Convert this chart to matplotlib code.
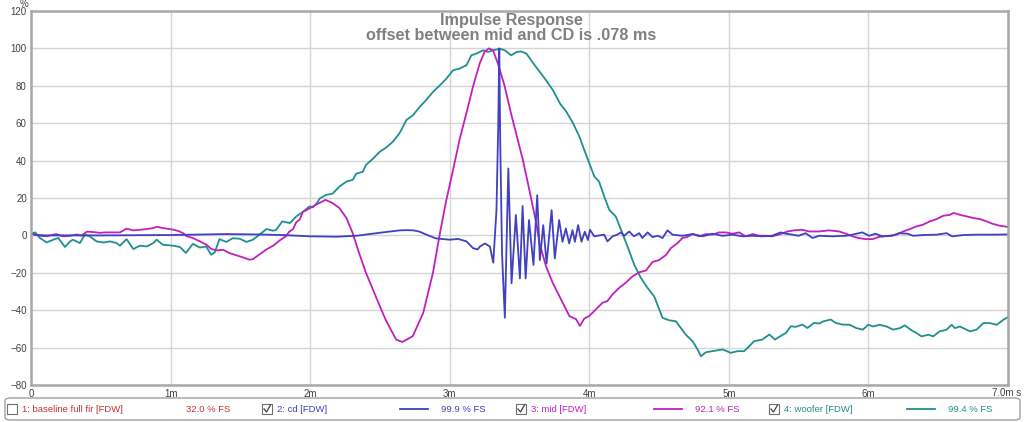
import matplotlib
matplotlib.use("Agg")
import matplotlib.pyplot as plt
from matplotlib.patches import FancyBboxPatch, Rectangle
from matplotlib.lines import Line2D

# --- data (time in ms, level in %) ---
woofer_t = [0.0, 0.03, 0.064, 0.112, 0.16, 0.196, 0.243, 0.28, 0.30, 0.35, 0.387, 0.42, 0.47, 0.52, 0.566,
            0.613, 0.637, 0.685, 0.733, 0.78, 0.83, 0.876, 0.90, 0.945, 1.02, 1.067, 1.11, 1.16, 1.21, 1.255,
            1.29, 1.317, 1.35, 1.40, 1.446, 1.496, 1.544, 1.59, 1.637, 1.687, 1.735, 1.757, 1.80, 1.854, 1.90,
            1.947, 1.995, 2.02, 2.045, 2.07, 2.115, 2.16, 2.21, 2.26, 2.305, 2.33, 2.377, 2.40, 2.45, 2.50,
            2.545, 2.593, 2.64, 2.69, 2.737, 2.785, 2.83, 2.88, 2.93, 2.976, 3.024, 3.07, 3.12, 3.155, 3.19,
            3.24, 3.275, 3.31, 3.36, 3.395, 3.44, 3.48, 3.51, 3.55, 3.6, 3.646, 3.69, 3.74, 3.79, 3.837,
            3.885, 3.93, 3.964, 4.0, 4.036, 4.07, 4.107, 4.143, 4.19, 4.227, 4.274, 4.322, 4.37, 4.418,
            4.465, 4.525, 4.573, 4.62, 4.656, 4.69, 4.74, 4.776, 4.8, 4.835, 4.883, 4.955, 5.014, 5.062,
            5.11, 5.146, 5.18, 5.24, 5.29, 5.33, 5.36, 5.41, 5.444, 5.48, 5.527, 5.563, 5.61, 5.647, 5.68,
            5.73, 5.766, 5.814, 5.866, 5.914, 5.96, 5.998, 6.033, 6.08, 6.13, 6.177, 6.225, 6.26, 6.31,
            6.344, 6.38, 6.43, 6.464, 6.51, 6.56, 6.596, 6.62, 6.655, 6.68, 6.727, 6.775, 6.823, 6.87,
            6.92, 6.967, 7.0]
woofer_v = [1.0, 1.6, -1.4, -3.75, -2.3, -1.4, -6.2, -3.2, -2.3, -4.1, 0.4, -0.5, -3.2, -3.8, -3.2,
            -4.1, -5.5, -2.0, -7.3, -5.5, -5.9, -4.1, -2.3, -5.0, -5.5, -6.2, -9.4, -4.5, -6.5, -5.9,
            -10.3, -9.1, -2.0, -3.5, -1.5, -1.8, -3.5, -2.3, 0.4, 3.4, 2.5, 3.0, 7.5, 6.6, 10.1,
            12.5, 15.5, 15.0, 17.0, 19.8, 21.7, 22.3, 26.1, 28.8, 29.7, 33.0, 34.0, 37.7, 41.0, 44.8,
            47.0, 50.1, 54.6, 61.7, 64.3, 68.7, 72.3, 76.7, 80.3, 83.8, 88.3, 89.2, 91.0, 96.3, 97.2,
            99.0, 98.1, 99.0, 99.8, 99.0, 96.3, 98.1, 98.4, 97.2, 91.9, 87.4, 83.0, 77.6, 70.5, 66.0,
            59.8, 52.7, 45.7, 38.6, 31.5, 28.8, 20.8, 13.7, 10.1, 3.0, -5.9, -15.7, -22.8, -28.1,
            -32.6, -44.1, -45.4, -45.9, -49.5, -53.0, -56.6, -61.0, -64.6, -62.5, -61.9, -61.0, -62.8, -61.9,
            -61.9, -59.3, -56.6, -55.7, -53.0, -55.7, -54.3, -52.1, -48.6, -48.9, -47.7, -49.5, -46.8, -47.1, -45.9,
            -45.0, -46.8, -47.7, -47.8, -49.6, -50.4, -47.8, -48.7, -47.8, -48.7, -50.4, -49.6, -48.1, -50.8,
            -52.2, -54.0, -53.1, -54.0, -51.3, -50.4, -47.8, -49.6, -48.7, -49.6, -51.3, -50.4, -46.9, -46.9,
            -47.8, -45.1, -43.7]

mid_t = [0.0, 0.064, 0.11, 0.18, 0.23, 0.28, 0.33, 0.36, 0.40, 0.446, 0.49, 0.54, 0.59, 0.637, 0.685,
         0.733, 0.78, 0.83, 0.876, 0.90, 0.947, 0.995, 1.04, 1.064, 1.09, 1.115, 1.16, 1.21, 1.258, 1.29,
         1.33, 1.377, 1.42, 1.47, 1.52, 1.566, 1.59, 1.64, 1.687, 1.735, 1.78, 1.83, 1.85, 1.878, 1.90,
         1.926, 1.947, 1.973, 2.02, 2.07, 2.11, 2.16, 2.21, 2.26, 2.305, 2.35, 2.40, 2.47, 2.54, 2.616,
         2.66, 2.735, 2.81, 2.88, 2.93, 2.976, 3.0, 3.024, 3.07, 3.12, 3.167, 3.215, 3.25, 3.28, 3.31,
         3.345, 3.393, 3.44, 3.488, 3.524, 3.56, 3.595, 3.62, 3.643, 3.69, 3.738, 3.786, 3.81, 3.857, 3.905,
         3.933, 3.964, 4.0, 4.048, 4.095, 4.13, 4.167, 4.215, 4.26, 4.31, 4.358, 4.406, 4.453, 4.5, 4.55,
         4.585, 4.632, 4.668, 4.7, 4.74, 4.787, 4.835, 4.883, 4.93, 4.98, 5.026, 5.074, 5.12, 5.17, 5.217,
         5.265, 5.31, 5.37, 5.42, 5.468, 5.527, 5.575, 5.647, 5.718, 5.79, 5.838, 5.885, 5.93, 5.98, 6.03,
         6.076, 6.148, 6.2, 6.249, 6.297, 6.344, 6.39, 6.44, 6.488, 6.536, 6.584, 6.61, 6.655, 6.703, 6.75,
         6.8, 6.846, 6.89, 6.94, 7.0]
mid_v = [0.7, -0.2, -0.5, 0.7, -0.5, -0.2, 0.5, -0.2, 2.0, 1.8, 1.4, 1.6, 1.6, 1.6, 3.6,
         2.7, 3.0, 3.4, 3.9, 4.6, 3.9, 3.4, 2.7, 2.1, 1.2, -0.4, -1.4, -3.2, -5.0, -7.2,
         -8.0, -7.7, -9.4, -10.6, -11.8, -13.0, -12.7, -10.0, -7.5, -5.5, -2.8, -0.2, 2.0, 3.4, 7.0,
         8.5, 12.5, 13.5, 15.5, 17.5, 19.0, 17.3, 14.6, 9.3, 1.2, -9.3, -20.0, -32.6, -45.0, -55.7,
         -57.0, -53.9, -41.5, -20.0, 1.2, 19.0, 27.0, 35.0, 51.0, 65.5, 79.6, 92.0, 98.2, 100.0, 99.0,
         92.0, 80.0, 65.0, 51.0, 40.4, 28.0, 15.5, 6.6, -4.1, -16.5, -25.4, -32.5, -36.0, -43.1, -44.8,
         -48.4, -44.5, -43.1, -39.5, -36.0, -35.1, -31.5, -28.0, -25.4, -21.9, -19.7, -18.8, -14.2, -13.2, -10.4,
         -6.8, -4.1, -1.4, -0.9, 0.8, -0.5, 0.7, 0.4, 1.6, 1.6, 0.9, 1.6, -0.5, 0.7, -0.2,
         -0.2, -0.5, 0.7, 2.1, 2.7, 3.0, 2.1, 2.1, 2.7, 2.1, 0.9, -0.5, -1.4, -2.0, -2.0,
         -0.8, -0.2, 0.4, 2.1, 3.4, 4.8, 5.7, 7.5, 8.7, 10.5, 11.0, 12.0, 11.0, 10.2, 9.3,
         8.7, 7.5, 6.2, 5.2, 4.5]

cd_t = [0.0, 0.03, 0.1, 0.5, 1.0, 1.4, 1.64, 1.8, 2.0, 2.19, 2.33, 2.52, 2.643, 2.69, 2.738, 2.78,
        2.833, 2.90, 3.0, 3.06, 3.12, 3.167, 3.20, 3.216, 3.252, 3.288, 3.312, 3.335, 3.348, 3.355,
        3.362, 3.375, 3.395, 3.42, 3.443, 3.474, 3.503, 3.522, 3.544, 3.568, 3.6, 3.627, 3.646, 3.67,
        3.694, 3.73, 3.753, 3.784, 3.808, 3.832, 3.856, 3.88, 3.897, 3.92, 3.944, 3.968, 3.99, 4.005,
        4.036, 4.072, 4.107, 4.13, 4.167, 4.2, 4.227, 4.25, 4.286, 4.32, 4.358, 4.38, 4.418, 4.453,
        4.49, 4.525, 4.56, 4.597, 4.668, 4.74, 4.81, 4.883, 4.955, 5.026, 5.1, 5.17, 5.24, 5.31,
        5.37, 5.41, 5.456, 5.5, 5.55, 5.6, 5.647, 5.742, 5.838, 5.885, 5.914, 5.957, 6.005, 6.05,
        6.1, 6.17, 6.22, 6.28, 6.32, 6.39, 6.49, 6.56, 6.6, 6.68, 6.775, 6.87, 7.0]
cd_v = [1.2, 0.3, 0.0, 0.0, 0.2, 0.7, 0.5, 0.2, -0.5, -0.7, -0.2, 1.6, 2.7, 2.8, 2.7, 2.1,
        0.4, -1.6, -2.3, -1.9, -3.2, -6.8, -7.5, -6.0, -4.3, -6.0, -14.6, 13.5, 60.0, 100.0,
        50.0, -10.0, -44.0, 35.8, -25.6, 10.9, -23.0, 15.7, -23.0, 8.2, -15.8, 21.5, -13.2, 5.5,
        -15.0, 13.5, -12.3, 8.2, -3.4, 3.7, -4.3, 2.8, -3.4, 5.5, -3.4, 2.0, -2.5, 3.0,
        -0.5, 0.0, 0.4, -3.2, -0.5, 0.4, 1.6, -0.2, 2.1, -0.5, 1.2, -1.4, 1.6, -0.9,
        -0.2, -1.4, 2.7, 0.4, -0.2, 0.7, -0.5, 0.9, -0.2, 0.4, -0.5, -0.2, -0.5, -0.2,
        1.6, 0.9, 0.4, -0.2, 1.2, -1.4, -0.2, -0.5, -0.2, 0.4, 0.9, 1.6, -0.2, 0.9,
        -0.5, -0.2, 1.2, 0.9, -0.2, 0.2, 0.4, 1.2, -0.5, 0.2, 0.4, 0.4, 0.5]

x_ticks = [0, 1, 2, 3, 4, 5, 6, 7]
x_labels = ["0", "1m", "2m", "3m", "4m", "5m", "6m", ""]
y_ticks = [-80, -60, -40, -20, 0, 20, 40, 60, 80, 100, 120]

legend_names = ["1: baseline full fir [FDW]", "2: cd [FDW]", "3: mid [FDW]", "4: woofer [FDW]"]
legend_levels = ["32.0 % FS", "99.9 % FS", "92.1 % FS", "99.4 % FS"]
legend_checked = [False, True, True, True]

c_base = "#c83030"
c_cd = "#4040c0"
c_mid = "#c020c0"
c_woof = "#1f8f8f"
legend_colors = [c_base, c_cd, c_mid, c_woof]

W, H = 1024, 422
fig = plt.figure(figsize=(W / 100, H / 100), dpi=100)
fig.patch.set_facecolor("white")
ax = fig.add_axes([31 / W, 1 - 385 / H, (1008 - 31) / W, (385 - 11) / H])

ax.plot(woofer_t, woofer_v, color=c_woof, lw=1.3)
ax.plot(mid_t, mid_v, color=c_mid, lw=1.3)
ax.plot(cd_t, cd_v, color=c_cd, lw=1.3)

ax.set_xlim(0, 7)
ax.set_ylim(-80, 120)
ax.set_xticks(x_ticks)
ax.set_xticklabels(x_labels)
ax.set_yticks(y_ticks)
ax.grid(True, color="#d4d4d4", lw=1)
ax.set_axisbelow(True)
ax.tick_params(length=0, labelsize=7, labelcolor="#404040", pad=3)
for lab in ax.get_xticklabels() + ax.get_yticklabels():
    lab.set_family("Liberation Sans")
for s in ax.spines.values():
    s.set_color("#a8a8a8")
    s.set_linewidth(1.8)

# last x label carries the unit
fig.text(1021 / W, 1 - 393 / H, "7.0m s", fontsize=7, color="#404040", family="Liberation Sans",
         ha="right", va="center")
fig.text(24 / W, 1 - 4 / H, "%", fontsize=7, color="#404040", family="Liberation Sans",
         ha="center", va="center")

fig.text(511 / W, 1 - 20 / H, "Impulse Response", fontsize=11.7, color="#808080", weight="bold",
         family="Liberation Sans", ha="center", va="center")
fig.text(511 / W, 1 - 36 / H, "offset between mid and CD is .078 ms", fontsize=11.7, color="#808080",
         weight="bold", family="Liberation Sans", ha="center", va="center")

# legend strip at the bottom
box = FancyBboxPatch((5 / W, 1 - 420 / H), 1015 / W, 22 / H, boxstyle="round,pad=0,rounding_size=0.006",
                     transform=fig.transFigure, facecolor="white", edgecolor="#a0a0a0", lw=1)
fig.patches.append(box)

item_x = [7, 262, 516, 769]
yc = 1 - 409 / H
for i in range(4):
    x0 = item_x[i]
    fig.patches.append(Rectangle((x0 / W, 1 - 414 / H), 10 / W, 10 / H, transform=fig.transFigure,
                                 facecolor="white", edgecolor="#707070", lw=0.8))
    if legend_checked[i]:
        fig.lines.append(Line2D([(x0 + 2) / W, (x0 + 4.5) / W, (x0 + 8.5) / W],
                                [1 - 409 / H, 1 - 412 / H, 1 - 405 / H], transform=fig.transFigure,
                                color="#404040", lw=0.9))
    fig.text((x0 + 15) / W, yc, legend_names[i], fontsize=6.8, color=legend_colors[i],
             family="Liberation Sans", ha="left", va="center")
    fig.text((x0 + 179) / W, yc, legend_levels[i], fontsize=6.8, color=legend_colors[i],
             family="Liberation Sans", ha="left", va="center")
    if legend_checked[i]:
        fig.lines.append(Line2D([(x0 + 138) / W, (x0 + 166) / W], [yc, yc], transform=fig.transFigure,
                                color=legend_colors[i], lw=1.3))

fig.savefig("out.png", dpi=100, facecolor="white")
